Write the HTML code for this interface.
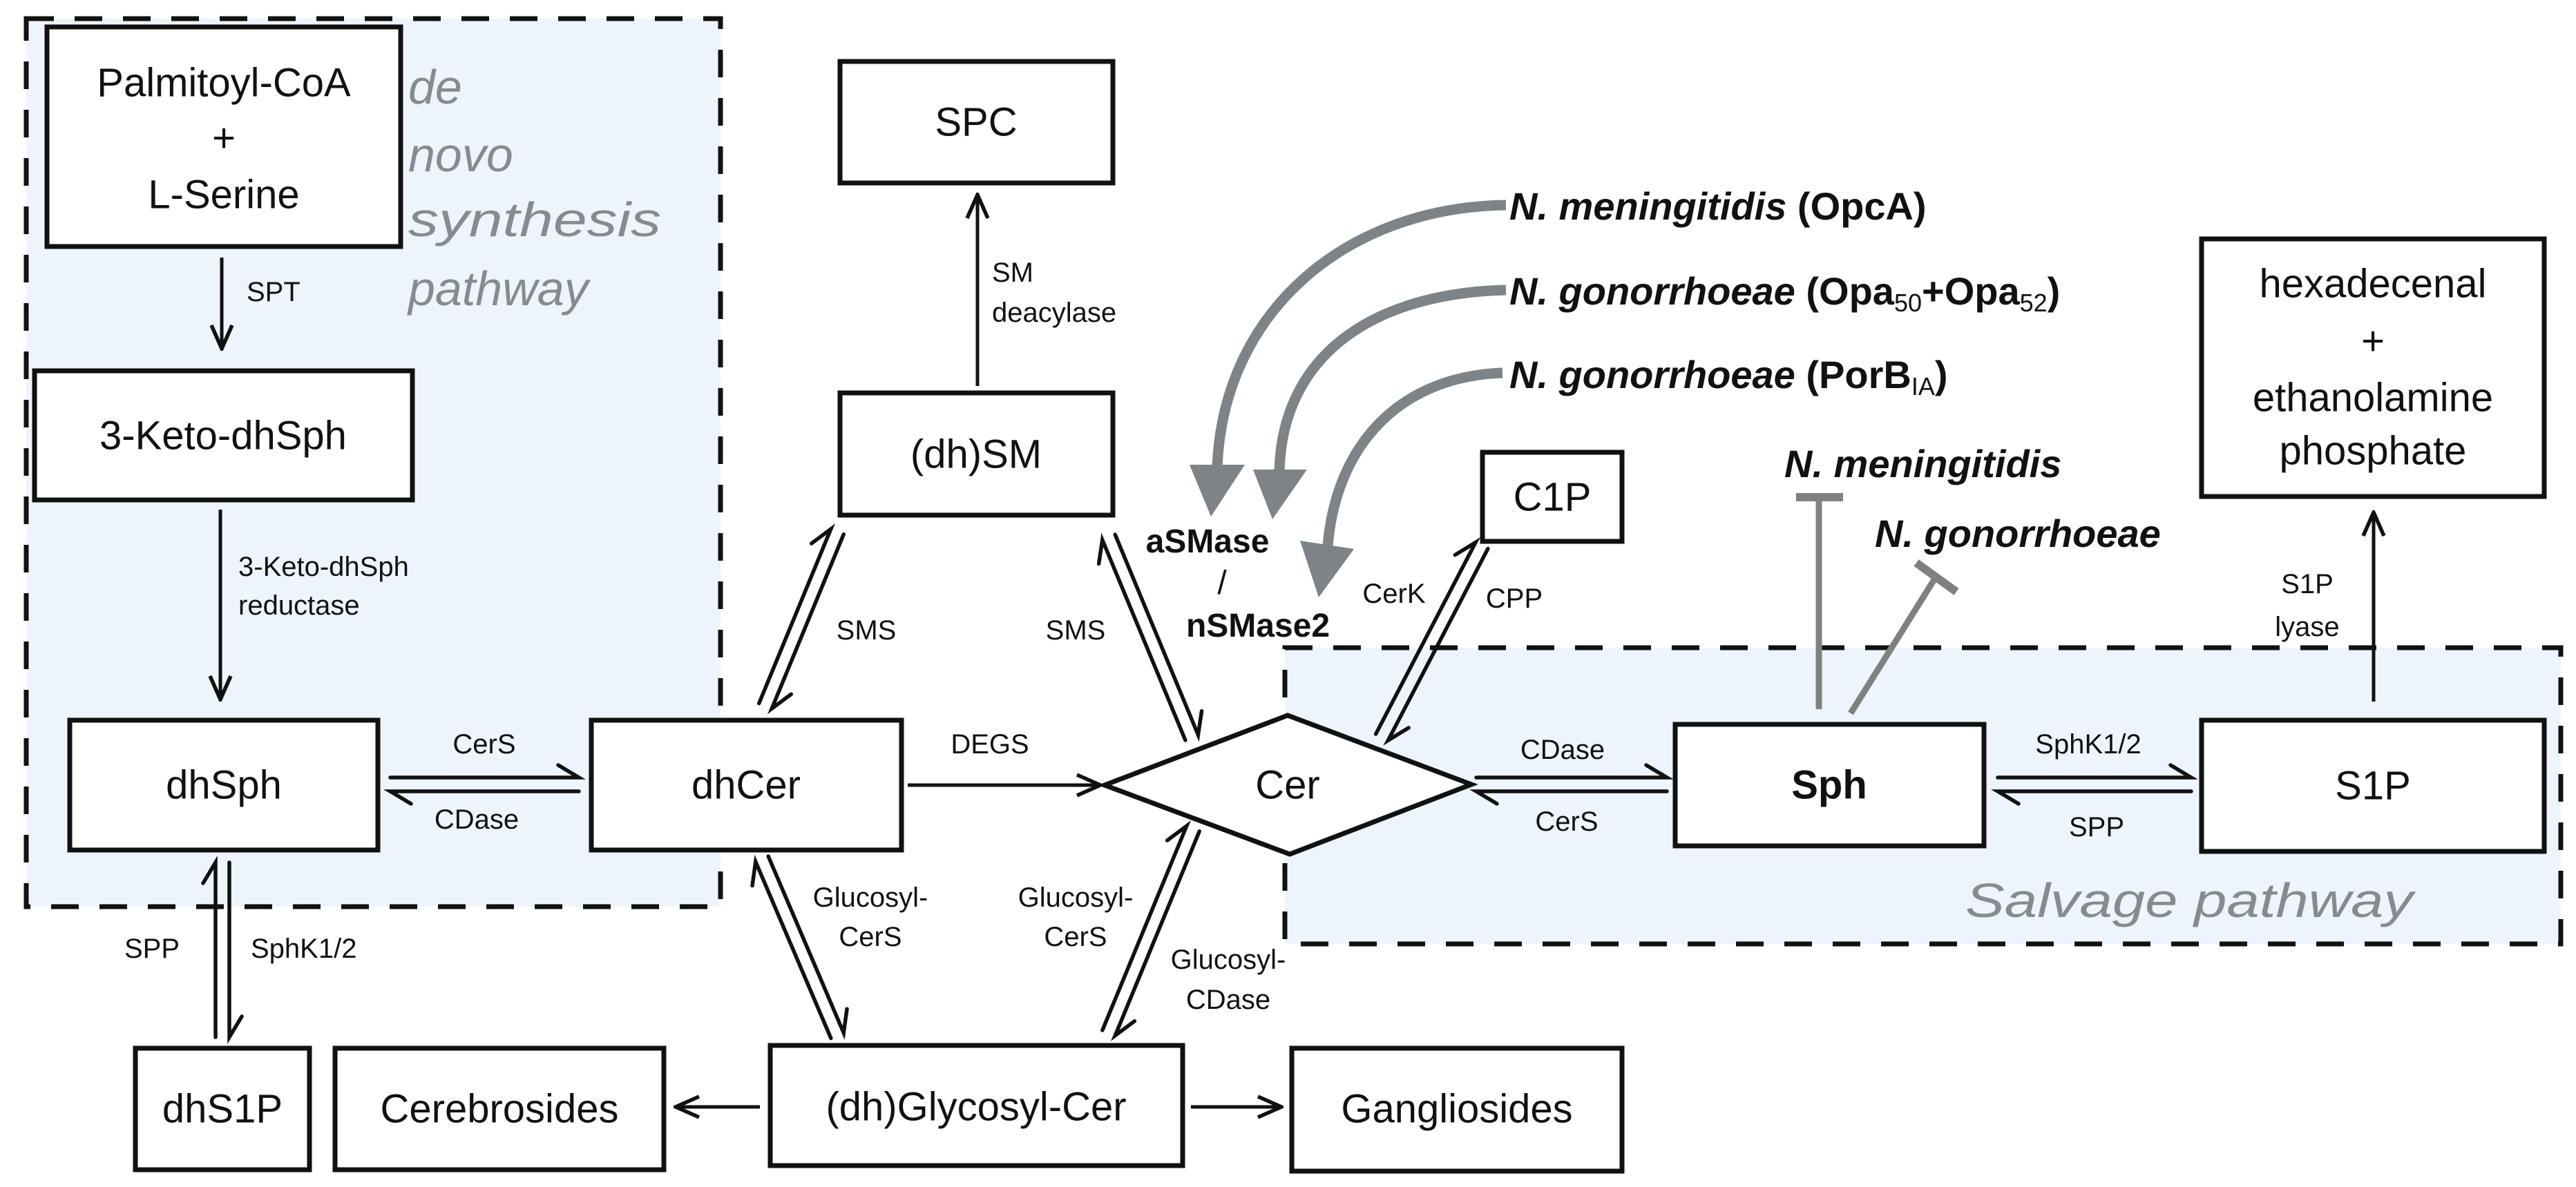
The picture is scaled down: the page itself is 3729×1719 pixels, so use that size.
<!DOCTYPE html>
<html><head><meta charset="utf-8"><style>
html,body{margin:0;padding:0;background:#fff}
svg{display:block}
text{font-family:"Liberation Sans",sans-serif}
</style></head><body>
<svg width="3729" height="1719" viewBox="0 0 3729 1719" xmlns="http://www.w3.org/2000/svg">
<defs>
<marker id="ah" viewBox="0 0 40 40" refX="37" refY="20" markerWidth="40" markerHeight="40" markerUnits="userSpaceOnUse" orient="auto">
<path d="M3,5 L37,20 L3,35" fill="none" stroke="#111" stroke-width="5.5"/>
</marker>
</defs>
<!-- pathway regions -->
<rect x="38" y="27" width="1005" height="1286" fill="#eef4fc" stroke="#111" stroke-width="7" stroke-dasharray="40 30"/>
<rect x="1860" y="938" width="1847" height="429" fill="#eef4fc" stroke="#111" stroke-width="7" stroke-dasharray="40 30"/>
<g fill="#878b8e" font-style="italic" font-size="70">
<text x="591" y="150">de</text>
<text x="591" y="248">novo</text>
<text x="591" y="342" textLength="366" lengthAdjust="spacingAndGlyphs">synthesis</text>
<text x="591" y="442">pathway</text>
<text x="2845" y="1328" textLength="648" lengthAdjust="spacingAndGlyphs">Salvage pathway</text>
</g>

<!-- boxes -->
<g fill="#fff" stroke="#111" stroke-width="7">
<rect x="68" y="39" width="512" height="318"/>
<rect x="50" y="537" width="547" height="187"/>
<rect x="1216" y="89" width="395" height="176"/>
<rect x="1216" y="569" width="395" height="177"/>
<rect x="101" y="1043" width="446" height="188"/>
<rect x="856" y="1043" width="449" height="188"/>
<rect x="196" y="1518" width="252" height="176"/>
<rect x="485" y="1518" width="476" height="176"/>
<rect x="1115" y="1514" width="597" height="174"/>
<rect x="1870" y="1518" width="478" height="178"/>
<rect x="2146" y="655" width="202" height="129"/>
<rect x="3187" y="346" width="496" height="373"/>
<rect x="2425" y="1049" width="447" height="176"/>
<rect x="3187" y="1043" width="496" height="190"/>
<polygon points="1599,1137 1864,1036 2130,1136 1867,1237"/>
</g>

<!-- box labels -->
<g font-size="58" fill="#111" text-anchor="middle" dominant-baseline="central">
<text x="324" y="120">Palmitoyl-CoA</text>
<text x="324" y="200">+</text>
<text x="324" y="282">L-Serine</text>
<text x="323" y="631">3-Keto-dhSph</text>
<text x="1413" y="177">SPC</text>
<text x="1413" y="658">(dh)SM</text>
<text x="324" y="1137">dhSph</text>
<text x="1080" y="1137">dhCer</text>
<text x="1864" y="1137">Cer</text>
<text x="322" y="1606">dhS1P</text>
<text x="723" y="1606">Cerebrosides</text>
<text x="1413" y="1603">(dh)Glycosyl-Cer</text>
<text x="2109" y="1606">Gangliosides</text>
<text x="2247" y="720">C1P</text>
<text x="2648" y="1137" font-weight="bold">Sph</text>
<text x="3435" y="1138">S1P</text>
<text x="3435" y="411">hexadecenal</text>
<text x="3435" y="494">+</text>
<text x="3435" y="576">ethanolamine</text>
<text x="3435" y="653">phosphate</text>
</g>

<!-- single arrows -->
<g stroke="#111" stroke-width="5" fill="none" marker-end="url(#ah)">
<line x1="321" y1="373" x2="321" y2="505"/>
<line x1="319" y1="738" x2="319" y2="1013"/>
<line x1="1415" y1="559" x2="1415" y2="282"/>
<line x1="1314" y1="1137" x2="1593" y2="1137"/>
<line x1="1100" y1="1603" x2="978" y2="1603"/>
<line x1="1724" y1="1603" x2="1855" y2="1603"/>
<line x1="3436" y1="1016" x2="3436" y2="742"/>
</g>

<!-- harpoon pairs -->
<g stroke="#111" stroke-width="5.5" fill="none" stroke-linecap="round">
<g transform="translate(565,1136)"><path d="M0,-10 H273 L243,-28 M273,10 H0 L30,28"/></g>
<g transform="translate(2137,1136)"><path d="M0,-10 H276 L246,-28 M276,10 H0 L30,28"/></g>
<g transform="translate(2892,1136)"><path d="M0,-10 H280 L250,-28 M280,10 H0 L30,28"/></g>
<g transform="translate(322,1249) rotate(90)"><path d="M0,-10 H253 L223,-28 M253,10 H0 L30,28"/></g>
<g transform="translate(1212,770) rotate(112.4)"><path d="M0,-10 H273 L243,-28 M273,10 H0 L30,28"/></g>
<g transform="translate(1605,778) rotate(67.5)"><path d="M0,-10 H314 L284,-28 M314,10 H0 L30,28"/></g>
<g transform="translate(1103,1244) rotate(66.9)"><path d="M0,-10 H278 L248,-28 M278,10 H0 L30,28"/></g>
<g transform="translate(1727,1200) rotate(112.4)"><path d="M0,-10 H320 L290,-28 M320,10 H0 L30,28"/></g>
<g transform="translate(2145,790) rotate(117.5)"><path d="M0,-10 H313 L283,-28 M313,10 H0 L30,28"/></g>
</g>

<!-- small labels -->
<g font-size="40" fill="#111">
<text x="357" y="436">SPT</text>
<text x="345" y="834">3-Keto-dhSph</text>
<text x="345" y="890">reductase</text>
<text x="1436" y="408">SM</text>
<text x="1436" y="466">deacylase</text>
<text x="701" y="1091" text-anchor="middle">CerS</text>
<text x="690" y="1200" text-anchor="middle">CDase</text>
<text x="1433" y="1091" text-anchor="middle">DEGS</text>
<text x="1254" y="926" text-anchor="middle">SMS</text>
<text x="1557" y="926" text-anchor="middle">SMS</text>
<text x="220" y="1387" text-anchor="middle">SPP</text>
<text x="363" y="1387">SphK1/2</text>
<text x="1260" y="1313" text-anchor="middle">Glucosyl-</text>
<text x="1260" y="1370" text-anchor="middle">CerS</text>
<text x="1557" y="1313" text-anchor="middle">Glucosyl-</text>
<text x="1557" y="1370" text-anchor="middle">CerS</text>
<text x="1778" y="1403" text-anchor="middle">Glucosyl-</text>
<text x="1778" y="1461" text-anchor="middle">CDase</text>
<text x="2018" y="873" text-anchor="middle">CerK</text>
<text x="2192" y="880" text-anchor="middle">CPP</text>
<text x="2262" y="1099" text-anchor="middle">CDase</text>
<text x="2268" y="1203" text-anchor="middle">CerS</text>
<text x="3023" y="1091" text-anchor="middle">SphK1/2</text>
<text x="3035" y="1211" text-anchor="middle">SPP</text>
<text x="3340" y="859" text-anchor="middle">S1P</text>
<text x="3340" y="921" text-anchor="middle">lyase</text>
</g>
<g font-size="48" font-weight="bold" fill="#111" text-anchor="middle">
<text x="1748" y="800">aSMase</text>
<text x="1769" y="860" font-weight="normal">/</text>
<text x="1821" y="922">nSMase2</text>
</g>

<!-- gray curved arrows -->
<g fill="none" stroke="#7d8386" stroke-width="15">
<path d="M2180,297 C1950,300 1770,450 1762,678"/>
<path d="M2180,420 C1980,425 1855,520 1852,684"/>
<path d="M2175,540 C2030,545 1935,640 1922,790"/>
</g>
<g fill="#7d8386">
<polygon points="1722,673 1802,673 1753,748"/>
<polygon points="1814,680 1892,680 1842,752"/>
<polygon points="1882,783 1960,795 1909,865"/>
</g>
<!-- inhibitors -->
<g stroke="#808080" stroke-width="9" fill="none">
<line x1="2633" y1="722" x2="2633" y2="1027"/>
<line x1="2600" y1="720" x2="2668" y2="720" stroke-width="12"/>
<line x1="2679" y1="1033" x2="2802" y2="836"/>
<line x1="2774" y1="815" x2="2832" y2="857" stroke-width="12"/>
</g>

<!-- bacteria labels -->
<g font-size="56" font-weight="bold" fill="#111">
<text x="2185" y="318"><tspan font-style="italic">N. meningitidis</tspan> (OpcA)</text>
<text x="2185" y="441"><tspan font-style="italic">N. gonorrhoeae</tspan> (Opa<tspan font-size="36" font-weight="normal" dy="10">50</tspan><tspan dy="-10">+Opa</tspan><tspan font-size="36" font-weight="normal" dy="10">52</tspan><tspan dy="-10">)</tspan></text>
<text x="2185" y="562"><tspan font-style="italic">N. gonorrhoeae</tspan> (PorB<tspan font-size="36" font-weight="normal" dy="10">IA</tspan><tspan dy="-10">)</tspan></text>
<text x="2583" y="691" font-style="italic">N. meningitidis</text>
<text x="2714" y="792" font-style="italic">N. gonorrhoeae</text>
</g>
</svg>
</body></html>
